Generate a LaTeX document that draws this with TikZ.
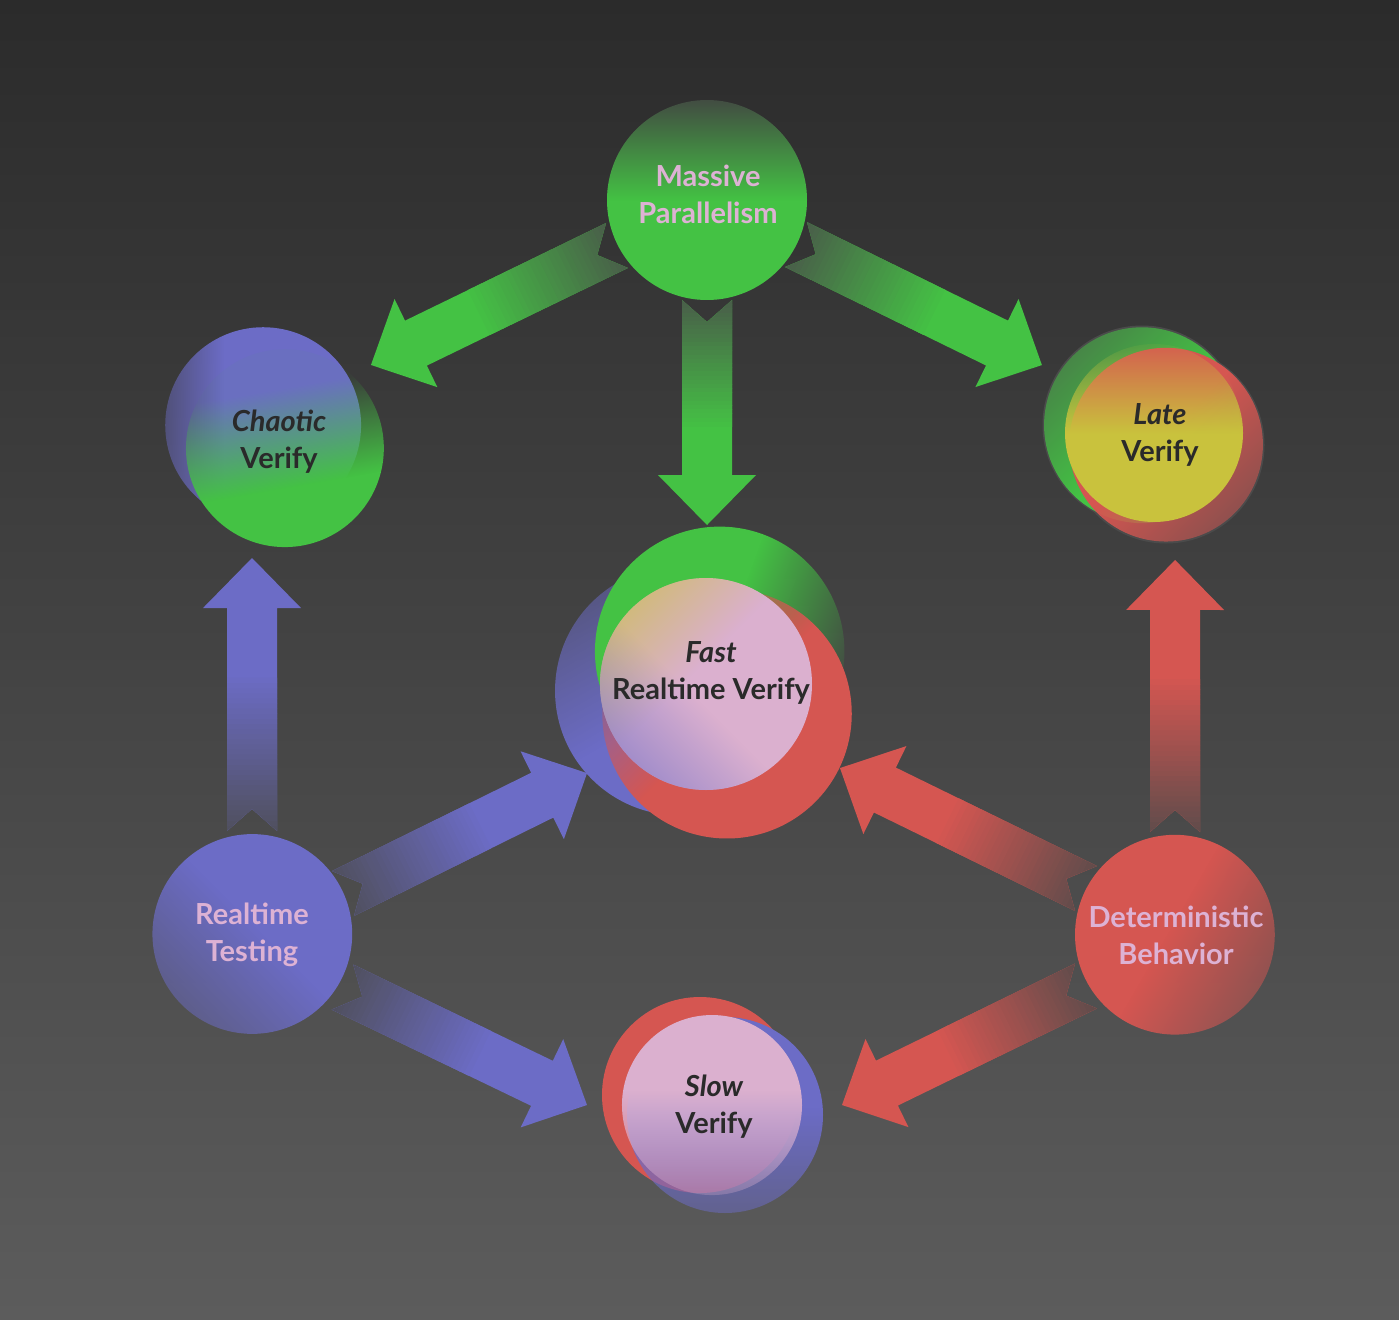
\documentclass[tikz,border=0pt]{standalone}
\usepackage{fontspec}
\setmainfont{Lato}
\usetikzlibrary{calc,fadings}

\definecolor{cGreen}{HTML}{44C244}
\definecolor{cBlue}{HTML}{6C6CC6}
\definecolor{cRed}{HTML}{D55651}
\definecolor{cPink}{HTML}{DBB0CF}
\definecolor{cYellow}{HTML}{C9C23D}
\definecolor{cText}{HTML}{2A2A2A}
\definecolor{cLbl}{HTML}{DDB2D4}
\definecolor{cTail}{HTML}{4A4A4A}
\definecolor{cBase}{HTML}{424242}
\definecolor{cHalo}{HTML}{4B4B4B}
\definecolor{bgTop}{HTML}{2B2B2B}
\definecolor{bgMid}{HTML}{464646}
\definecolor{bgBot}{HTML}{5C5C5C}

% the 25bp..75bp band of each fading is fitted to the path's bounding box
\pgfdeclareverticalshading{shTop}{100bp}{color(0bp)=(white); color(50bp)=(white); color(75bp)=(black!92); color(100bp)=(black!92)}
\pgfdeclarefading{fTop}{\pgfuseshading{shTop}}
\pgfdeclareverticalshading{shHard}{100bp}{color(0bp)=(white); color(40bp)=(white); color(65bp)=(black!96); color(100bp)=(black!96)}
\pgfdeclarefading{fHard}{\pgfuseshading{shHard}}
\pgfdeclareverticalshading{shSoft}{100bp}{color(0bp)=(white); color(48bp)=(white); color(75bp)=(black!50); color(100bp)=(black!50)}
\pgfdeclarefading{fSoft}{\pgfuseshading{shSoft}}
\pgfdeclareverticalshading{shRim}{100bp}{color(0bp)=(white); color(60bp)=(white); color(75bp)=(black!55); color(100bp)=(black!55)}
\pgfdeclarefading{fRim}{\pgfuseshading{shRim}}
\pgfdeclareverticalshading{shMid}{100bp}{color(0bp)=(white); color(46bp)=(white); color(75bp)=(black!72); color(100bp)=(black!72)}
\pgfdeclarefading{fMid}{\pgfuseshading{shMid}}
\pgfdeclareverticalshading{shEdge}{100bp}{color(0bp)=(white); color(25bp)=(white); color(46bp)=(black); color(100bp)=(black)}
\pgfdeclarefading{fEdge}{\pgfuseshading{shEdge}}

\pgfdeclarelayer{bglayer}
\pgfdeclarelayer{deco}
\pgfsetlayers{bglayer,deco,main}

\newdimen\baX
\newdimen\baY
\newcommand\blockarrow[3]{%
  \path #1 coordinate (baS);
  \path #2 coordinate (baE);
  \pgfmathanglebetweenpoints{\pgfpointanchor{baS}{center}}{\pgfpointanchor{baE}{center}}%
  \let\baAng\pgfmathresult
  \pgfextractx{\baX}{\pgfpointdiff{\pgfpointanchor{baS}{center}}{\pgfpointanchor{baE}{center}}}%
  \pgfextracty{\baY}{\pgfpointdiff{\pgfpointanchor{baS}{center}}{\pgfpointanchor{baE}{center}}}%
  \pgfmathsetmacro\baL{veclen(\baX,\baY)}%
  \pgfmathsetmacro\baH{\baL-50}%
  \begin{scope}[shift={(baS)},rotate=\baAng]
    \path[fill=#3] (0,25) -- (\baH,25) -- (\baH,49) -- (\baL,0) -- (\baH,-49) -- (\baH,-25) -- (0,-25) -- (22,0) -- cycle;
    \begin{scope}
      \clip (0,25) -- (\baH,25) -- (\baH,-25) -- (0,-25) -- (22,0) -- cycle;
      \foreach \i in {0,...,29}{%
        \pgfmathtruncatemacro\baP{18+82*\i/30}%
        \pgfmathsetmacro\baXa{\baL*0.56*\i/30}%
        \pgfmathsetmacro\baXb{\baL*0.56*(\i+1)/30+0.6}%
        \fill[#3!\baP!cTail] (\baXa,-30) rectangle (\baXb,30);
      }
    \end{scope}
  \end{scope}}

\begin{document}
\begin{tikzpicture}[x=1pt,y=1pt,
  spot/.style={circle,inner sep=0pt,minimum size=200pt},
  lbl/.style={align=center,inner sep=0pt,text=cLbl,font=\fontsize{29}{37}\selectfont\bfseries},
  dk/.style={align=center,inner sep=0pt,text=cText,font=\fontsize{29}{37}\selectfont\bfseries}]
\useasboundingbox (0,0) rectangle (1399,-1319);
\begin{pgfonlayer}{bglayer}
  \shade[top color=bgTop,middle color=bgMid,bottom color=bgBot] (0,0) rectangle (1399,-1319);
\end{pgfonlayer}

% hub nodes
\node[spot] (mp) at (707,-200) {};
\node[spot] (cv) at (274,-437) {};
\node[spot] (lv) at (1155,-436) {};
\node[spot] (fv) at (707,-684) {};
\node[spot] (rt) at (252,-934) {};
\node[spot] (db) at (1175,-935) {};
\node[spot] (sv) at (712,-1105) {};

\begin{pgfonlayer}{deco}
  % arrows
  \blockarrow{($(mp)+(206.8:100.8)$)}{($(cv)+(36.6:120.8)$)}{cGreen}
  \blockarrow{($(mp)+(333.4:99.5)$)}{($(lv)+(147.9:133.5)$)}{cGreen}
  \blockarrow{($(mp)+(270:100)$)}{($(fv)+(90:159)$)}{cGreen}
  \blockarrow{($(rt)+(90:103)$)}{($(cv)+(259.7:123)$)}{cBlue}
  \blockarrow{($(rt)+(24:99.6)$)}{($(fv)+(216.6:149.4)$)}{cBlue}
  \blockarrow{($(rt)+(329.6:104.9)$)}{($(sv)+(180:125)$)}{cBlue}
  \blockarrow{($(db)+(90:103)$)}{($(lv)+(279.2:125.6)$)}{cRed}
  \blockarrow{($(db)+(152.4:100.4)$)}{($(fv)+(327.7:157.3)$)}{cRed}
  \blockarrow{($(db)+(209.8:102.6)$)}{($(sv)+(0:130)$)}{cRed}

  % Massive Parallelism
  \fill[cBase] (mp) circle (100);
  \fill[cGreen,path fading=fTop] (mp) circle (100);

  % Chaotic Verify
  \fill[cBlue,path fading=fRim,fading angle=90] ($(cv)+(-11,12)$) circle (98);
  \fill[cGreen,path fading=fHard,fading angle=10] ($(cv)+(11,-11)$) circle (99);

  % Late Verify
  \fill[cHalo] ($(lv)+(-13,11)$) circle (99.5);
  \fill[cHalo] ($(lv)+(11,-9)$) circle (98.5);
  \fill[cGreen,path fading=fSoft,fading angle=45] ($(lv)+(-13,11)$) circle (98);
  \fill[cRed,path fading=fSoft,fading angle=-135] ($(lv)+(11,-9)$) circle (97);
  \fill[cYellow,path fading=fTop] ($(lv)+(-1,3)$) circle (89);

  % Fast Realtime Verify
  \fill[cBlue,path fading=fSoft,fading angle=30] ($(fv)+(-27,-6)$) circle (125);
  \fill[cGreen,path fading=fTop,fading angle=-110] ($(fv)+(13,32)$) circle (125);
  \fill[cRed,path fading=fTop,fading angle=45] ($(fv)+(20,-29)$) circle (125);
  \fill[cPink] ($(fv)+(-1,0)$) circle (106);
  \fill[cYellow,opacity=0.55,path fading=fEdge,fading angle=-135] ($(fv)+(-1,0)$) circle (106);
  \fill[cBlue,opacity=0.5,path fading=fEdge,fading angle=-45] ($(fv)+(-1,0)$) circle (106);

  % Realtime Testing
  \fill[cBlue,path fading=fSoft,fading angle=135] (rt) circle (100);

  % Deterministic Behavior
  \fill[cRed,path fading=fSoft,fading angle=-120] (db) circle (100);

  % Slow Verify
  \fill[cRed] ($(sv)+(-12,10)$) circle (98);
  \fill[cBlue,path fading=fSoft,fading angle=180] ($(sv)+(13,-10)$) circle (98);
  \fill[cPink,path fading=fMid,fading angle=180] (sv) circle (90);
\end{pgfonlayer}

% labels
\node[lbl] (mpT) at ($(mp)+(1,2)$) {\strut Massive\\\strut Parallelism};
\node[dk] (cvT) at ($(cv)+(5,-6)$) {\strut\itshape Chaotic\\\strut Verify};
\node[dk] (lvT) at ($(lv)+(5,0)$) {\strut\itshape Late\\\strut Verify};
\node[dk] (fvT) at ($(fv)+(4,10)$) {\strut\itshape Fast\\\strut Realtime Verify};
\node[lbl] (rtT) at ($(rt)+(0,-2)$) {\strut Realtime\\\strut Testing};
\node[lbl] (dbT) at ($(db)+(1,-4)$) {\strut Deterministic\\\strut Behavior};
\node[dk] (svT) at ($(sv)+(2,-3)$) {\strut\itshape Slow\\\strut Verify};
\end{tikzpicture}
\end{document}
